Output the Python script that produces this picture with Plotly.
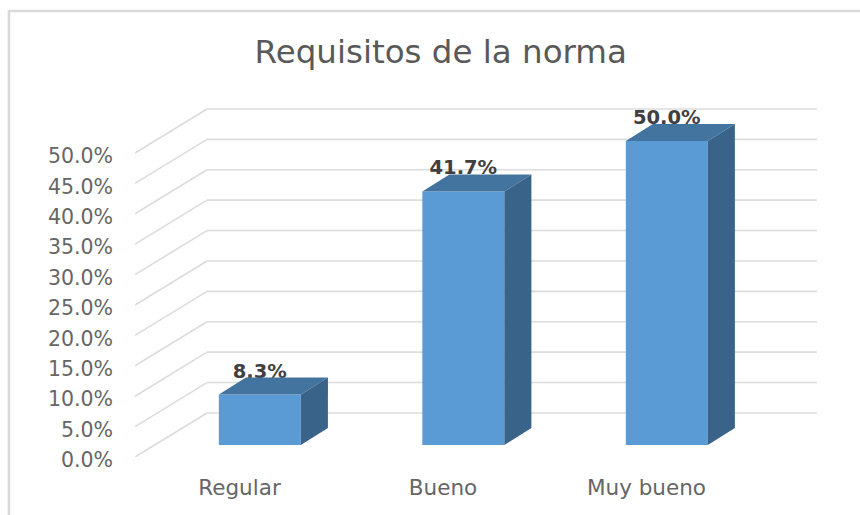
"""Requisitos de la norma: Excel-style 3D column chart drawn on flat axes."""

import plotly.graph_objects as go

CATEGORIES = ["Regular", "Bueno", "Muy bueno"]
VALUES = [8.3, 41.7, 50.0]
VALUE_LABELS = ["8.3%", "41.7%", "50.0%"]
TICK_VALUES = [0, 5, 10, 15, 20, 25, 30, 35, 40, 45, 50]
TICK_LABELS = ["0.0%", "5.0%", "10.0%", "15.0%", "20.0%", "25.0%",
               "30.0%", "35.0%", "40.0%", "45.0%", "50.0%"]

COLOR_FRONT = "#5b9bd5"
COLOR_TOP = "#4374a0"
COLOR_SIDE = "#396388"
COLOR_GRID = "#dcdcdc"
COLOR_BORDER = "#d9d9d9"
COLOR_AXIS_TEXT = "#666666"
FONT = "DejaVu Sans"

# axis ranges and the fake perspective, in axis units
X_RANGE = [-0.5135, 2.838]
Y_RANGE = [0, 57.89]
WALL_DX = 0.354  # floor depth, front edge to back wall
WALL_DY = 7.24
BAR_WIDTH = 0.403
BAR_SHIFT = 0.1  # bars stand partway back on the floor
BAR_BASE = 1.97
DEPTH_DX = 0.133
DEPTH_DY = 2.8
LABEL_GAP = 3.6

fig = go.Figure()

# front faces
fig.add_trace(go.Bar(
    x=[i + BAR_SHIFT for i in range(len(CATEGORIES))],
    y=VALUES,
    base=BAR_BASE,
    width=BAR_WIDTH,
    marker=dict(color=COLOR_FRONT, line=dict(width=0)),
    hoverinfo="skip",
))

# labels go before the top faces, which clip their lower edge
fig.add_trace(go.Scatter(
    x=[i + BAR_SHIFT for i in range(len(CATEGORIES))],
    y=[v + BAR_BASE + LABEL_GAP for v in VALUES],
    mode="text",
    text=VALUE_LABELS,
    textposition="middle center",
    textfont=dict(family=FONT, size=19.5, color="#404040", weight="bold"),
    hoverinfo="skip",
))

for i, value in enumerate(VALUES):
    left = i + BAR_SHIFT - BAR_WIDTH / 2
    right = i + BAR_SHIFT + BAR_WIDTH / 2
    top = value + BAR_BASE
    fig.add_trace(go.Scatter(
        x=[left, right, right + DEPTH_DX, left + DEPTH_DX, left],
        y=[top, top, top + DEPTH_DY, top + DEPTH_DY, top],
        mode="lines",
        fill="toself",
        fillcolor=COLOR_TOP,
        line=dict(width=0),
        hoverinfo="skip",
    ))
    fig.add_trace(go.Scatter(
        x=[right, right + DEPTH_DX, right + DEPTH_DX, right, right],
        y=[BAR_BASE, BAR_BASE + DEPTH_DY, top + DEPTH_DY, top, BAR_BASE],
        mode="lines",
        fill="toself",
        fillcolor=COLOR_SIDE,
        line=dict(width=0),
        hoverinfo="skip",
    ))

# grid: side wall diagonal plus back wall line for every tick
grid_line = dict(color=COLOR_GRID, width=1.6)
for tick in TICK_VALUES:
    fig.add_shape(type="line", layer="below", xref="x", yref="y",
                  x0=X_RANGE[0], y0=tick,
                  x1=X_RANGE[0] + WALL_DX, y1=tick + WALL_DY, line=grid_line)
    fig.add_shape(type="line", layer="below", xref="x", yref="y",
                  x0=X_RANGE[0] + WALL_DX, y0=tick + WALL_DY,
                  x1=X_RANGE[1], y1=tick + WALL_DY, line=grid_line)

# chart frame, only the left and top edges show in the crop
border = dict(color=COLOR_BORDER, width=2.5)
fig.add_shape(type="line", xref="paper", yref="paper",
              x0=-0.1848, y0=1.27, x1=-0.1848, y1=-0.2, line=border)
fig.add_shape(type="line", xref="paper", yref="paper",
              x0=-0.1848, y0=1.267, x1=1.1, y1=1.267, line=border)

fig.update_layout(
    width=860,
    height=515,
    margin=dict(l=135, r=43, t=105, b=58),
    paper_bgcolor="white",
    plot_bgcolor="white",
    showlegend=False,
    title=dict(
        text="Requisitos de la norma",
        x=0.5125,
        xanchor="center",
        y=0.899,
        yanchor="middle",
        font=dict(family=FONT, size=32.5, color="#595959"),
    ),
    xaxis=dict(
        range=X_RANGE,
        tickmode="array",
        tickvals=list(range(len(CATEGORIES))),
        ticktext=CATEGORIES,
        showgrid=False,
        zeroline=False,
        showline=False,
        ticks="",
        ticklabelstandoff=15,
        tickfont=dict(family=FONT, size=21.5, color=COLOR_AXIS_TEXT),
    ),
    yaxis=dict(
        range=Y_RANGE,
        tickmode="array",
        tickvals=TICK_VALUES,
        ticktext=TICK_LABELS,
        showgrid=False,
        zeroline=False,
        showline=False,
        ticks="",
        ticklabelstandoff=21,
        ticklabelshift=3,
        tickfont=dict(family=FONT, size=20.5, color=COLOR_AXIS_TEXT),
    ),
)

fig.write_html(
    "out.html",
    config={"displayModeBar": False},
    post_script="document.body.style.margin = '0'; document.body.style.overflow = 'hidden';",
)
